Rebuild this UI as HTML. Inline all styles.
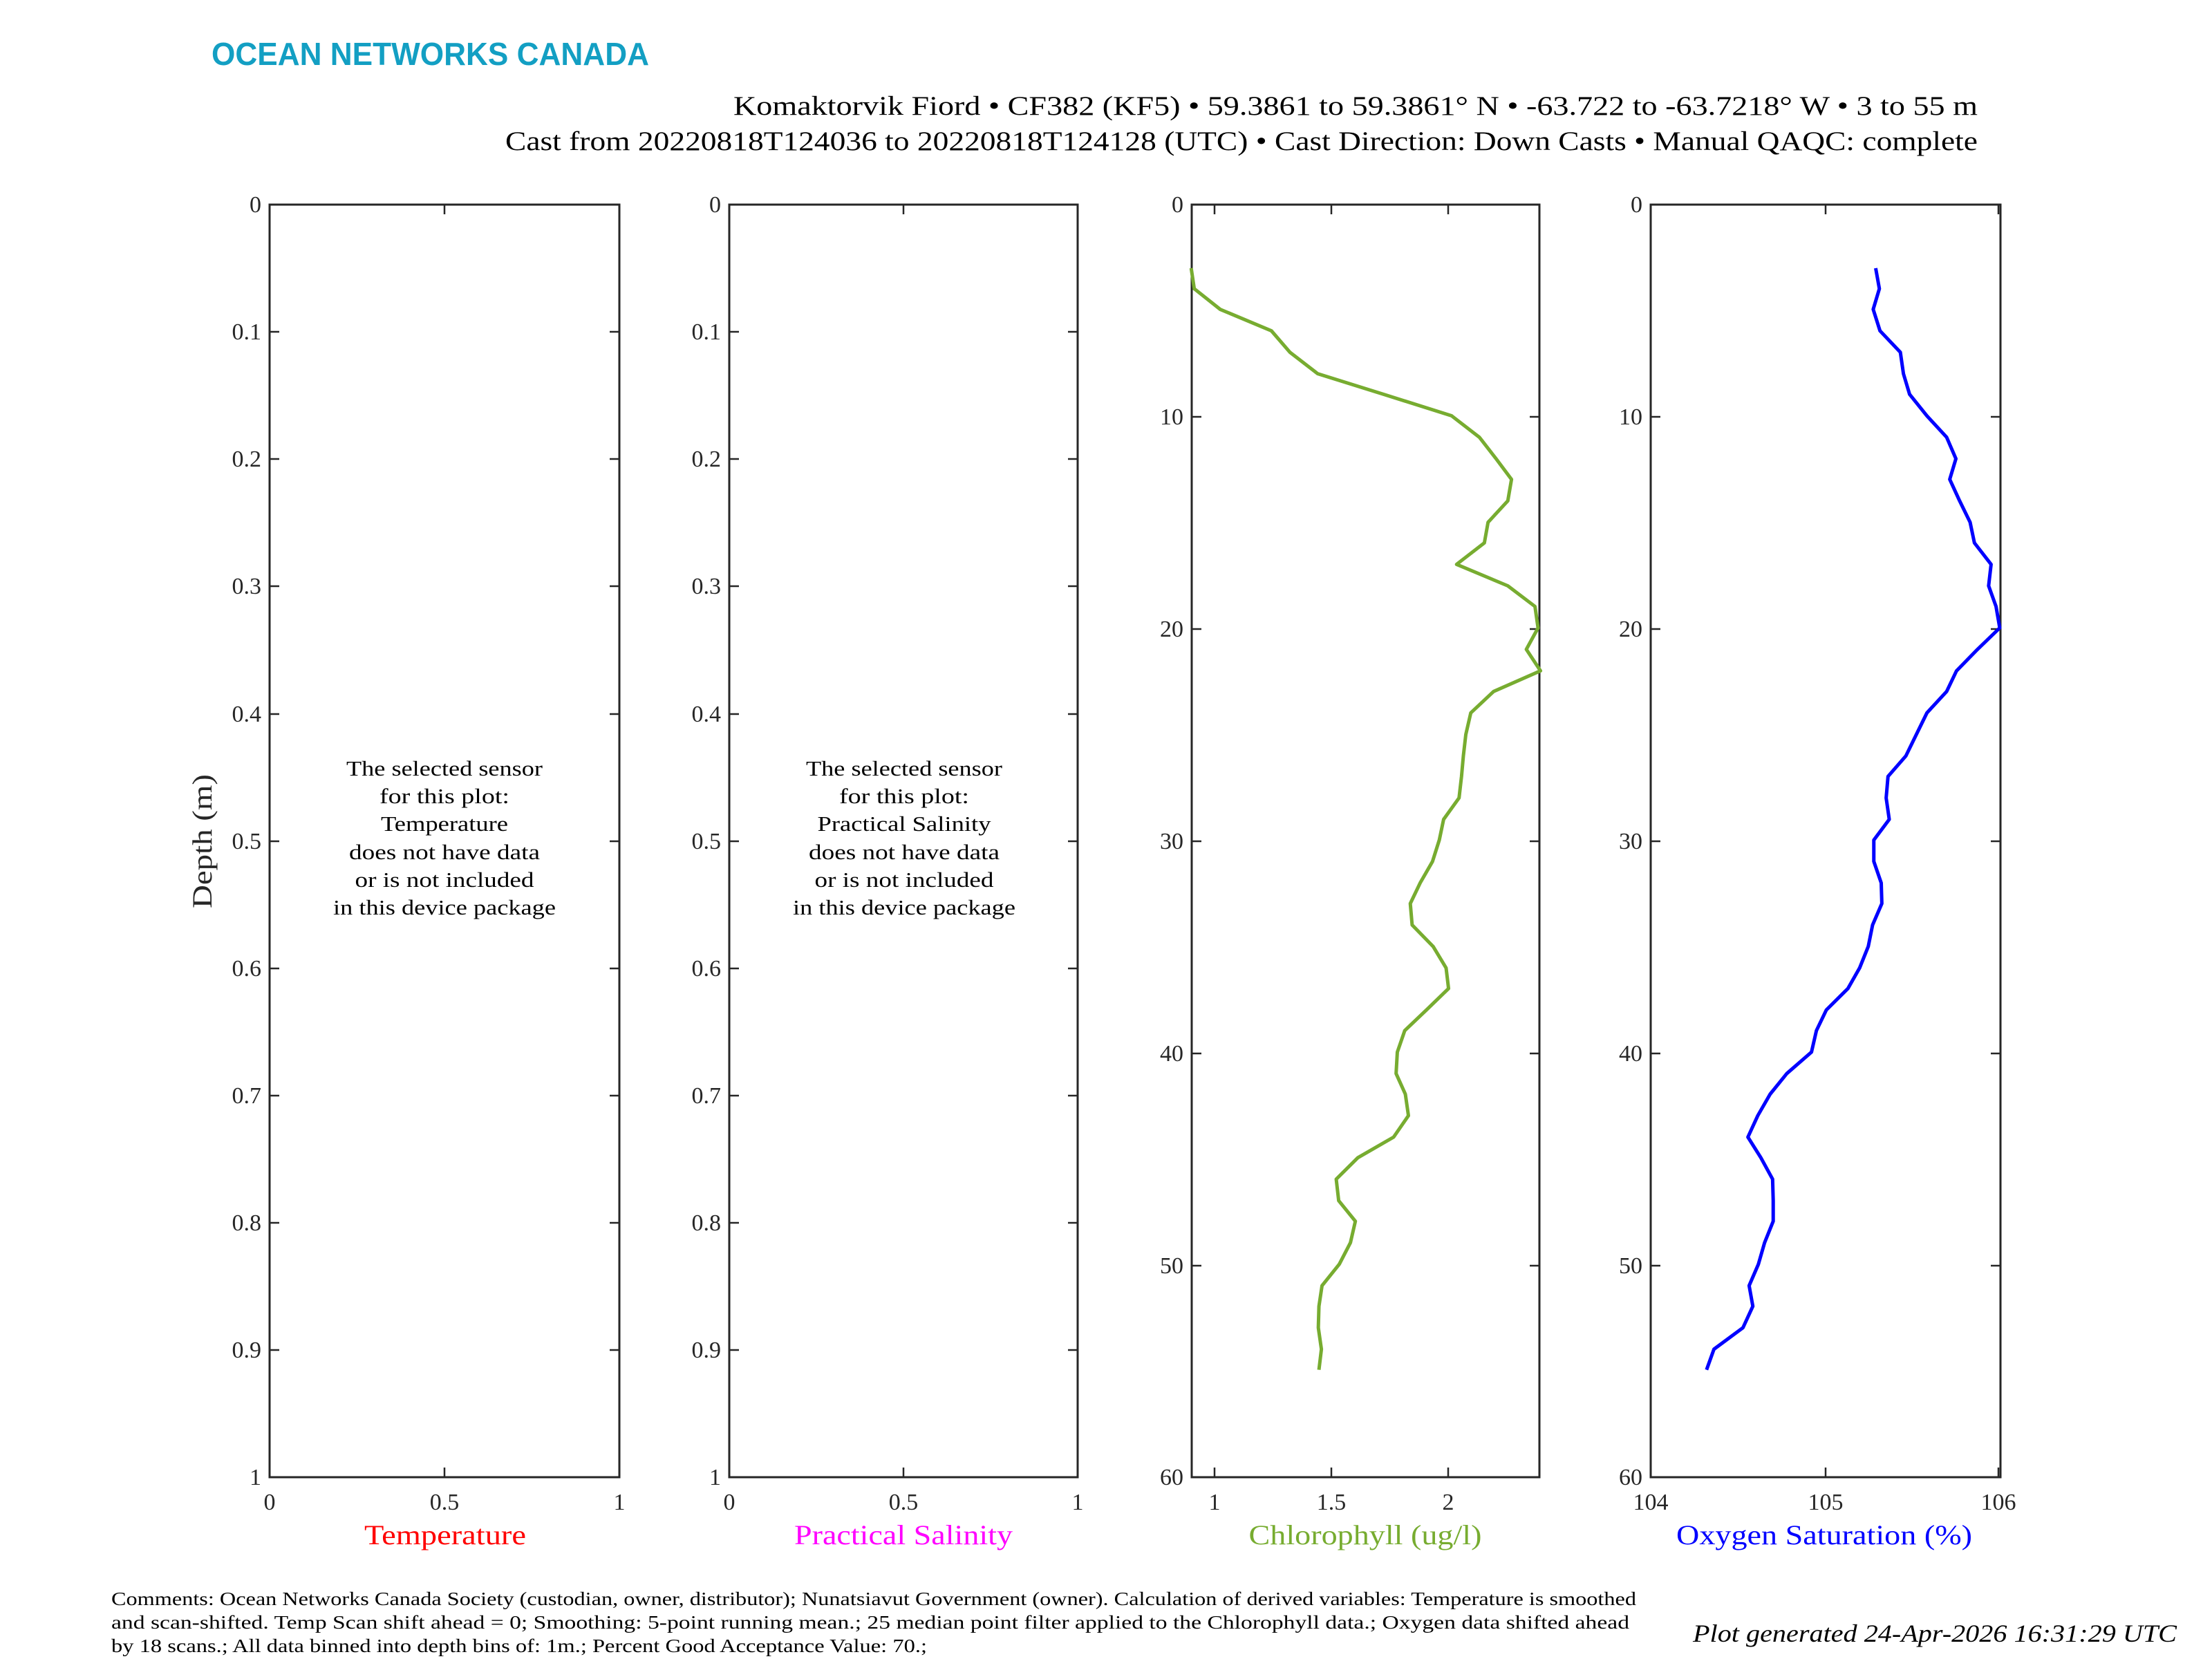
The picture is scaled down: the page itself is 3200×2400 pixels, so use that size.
<!DOCTYPE html>
<html><head><meta charset="utf-8"><style>html,body{margin:0;padding:0;background:#fff}svg{display:block}</style></head><body>
<svg xmlns="http://www.w3.org/2000/svg" width="3200" height="2400" viewBox="0 0 3200 2400" font-family="'Liberation Serif',serif">
<rect width="3200" height="2400" fill="#fff"/>
<text x="306" y="94" font-family="'Liberation Sans',sans-serif" font-weight="bold" font-size="46" fill="#139fc3" textLength="633" lengthAdjust="spacingAndGlyphs">OCEAN NETWORKS CANADA</text>
<g font-size="39" text-anchor="end" fill="#000" lengthAdjust="spacingAndGlyphs">
<text x="2861" y="166" textLength="1800" lengthAdjust="spacingAndGlyphs">Komaktorvik Fiord • CF382 (KF5) • 59.3861 to 59.3861° N • -63.722 to -63.7218° W • 3 to 55 m</text>
<text x="2861" y="217" textLength="2130" lengthAdjust="spacingAndGlyphs">Cast from 20220818T124036 to 20220818T124128 (UTC) • Cast Direction: Down Casts • Manual QAQC: complete</text>
</g>
<g stroke="#262626" stroke-width="3" fill="none">
<rect x="390" y="296" width="506" height="1841"/>
<rect x="1055" y="296" width="504" height="1841"/>
<rect x="1724" y="296" width="503" height="1841"/>
<rect x="2388" y="296" width="506" height="1841"/>
</g>
<g stroke="#262626" stroke-width="2.5">
<path d="M390 480h14M390 664h14M390 848h14M390 1033h14M390 1217h14M390 1401h14M390 1585h14M390 1769h14M390 1953h14
M896 480h-14M896 664h-14M896 848h-14M896 1033h-14M896 1217h-14M896 1401h-14M896 1585h-14M896 1769h-14M896 1953h-14
M643 296v14M643 2137v-14
M1055 480h14M1055 664h14M1055 848h14M1055 1033h14M1055 1217h14M1055 1401h14M1055 1585h14M1055 1769h14M1055 1953h14
M1559 480h-14M1559 664h-14M1559 848h-14M1559 1033h-14M1559 1217h-14M1559 1401h-14M1559 1585h-14M1559 1769h-14M1559 1953h-14
M1307 296v14M1307 2137v-14
M1724 603h14M1724 910h14M1724 1217h14M1724 1524h14M1724 1831h14
M2227 603h-14M2227 910h-14M2227 1217h-14M2227 1524h-14M2227 1831h-14
M1757 296v14M1757 2137v-14M1926 296v14M1926 2137v-14M2095 296v14M2095 2137v-14
M2388 603h14M2388 910h14M2388 1217h14M2388 1524h14M2388 1831h14
M2894 603h-14M2894 910h-14M2894 1217h-14M2894 1524h-14M2894 1831h-14
M2641 296v14M2641 2137v-14M2891 296v14M2891 2137v-14"/>
</g>
<g font-size="34" fill="#262626" text-anchor="end">
<text x="378" y="307">0</text><text x="378" y="491">0.1</text><text x="378" y="675">0.2</text><text x="378" y="859">0.3</text><text x="378" y="1044">0.4</text><text x="378" y="1228">0.5</text><text x="378" y="1412">0.6</text><text x="378" y="1596">0.7</text><text x="378" y="1780">0.8</text><text x="378" y="1964">0.9</text><text x="378" y="2148">1</text>
<text x="1043" y="307">0</text><text x="1043" y="491">0.1</text><text x="1043" y="675">0.2</text><text x="1043" y="859">0.3</text><text x="1043" y="1044">0.4</text><text x="1043" y="1228">0.5</text><text x="1043" y="1412">0.6</text><text x="1043" y="1596">0.7</text><text x="1043" y="1780">0.8</text><text x="1043" y="1964">0.9</text><text x="1043" y="2148">1</text>
<text x="1712" y="307">0</text><text x="1712" y="614">10</text><text x="1712" y="921">20</text><text x="1712" y="1228">30</text><text x="1712" y="1535">40</text><text x="1712" y="1842">50</text><text x="1712" y="2148">60</text>
<text x="2376" y="307">0</text><text x="2376" y="614">10</text><text x="2376" y="921">20</text><text x="2376" y="1228">30</text><text x="2376" y="1535">40</text><text x="2376" y="1842">50</text><text x="2376" y="2148">60</text>
</g>
<g font-size="34" fill="#262626" text-anchor="middle">
<text x="390" y="2184">0</text><text x="643" y="2184">0.5</text><text x="896" y="2184">1</text>
<text x="1055" y="2184">0</text><text x="1307" y="2184">0.5</text><text x="1559" y="2184">1</text>
<text x="1757" y="2184">1</text><text x="1926" y="2184">1.5</text><text x="2095" y="2184">2</text>
<text x="2388" y="2184">104</text><text x="2641" y="2184">105</text><text x="2891" y="2184">106</text>
</g>
<g font-size="40" text-anchor="middle">
<text x="644" y="2234" fill="#ff0000" textLength="234" lengthAdjust="spacingAndGlyphs">Temperature</text>
<text x="1307" y="2234" fill="#ff00ff" textLength="316" lengthAdjust="spacingAndGlyphs">Practical Salinity</text>
<text x="1975" y="2234" fill="#77ac30" textLength="337" lengthAdjust="spacingAndGlyphs">Chlorophyll (ug/l)</text>
<text x="2639" y="2234" fill="#0000ff" textLength="428" lengthAdjust="spacingAndGlyphs">Oxygen Saturation (%)</text>
<text transform="translate(306,1217) rotate(-90)" fill="#262626" textLength="194" lengthAdjust="spacingAndGlyphs">Depth (m)</text>
</g>
<g font-size="31" text-anchor="middle" fill="#000" lengthAdjust="spacingAndGlyphs">
<text x="643" y="1122" textLength="284" lengthAdjust="spacingAndGlyphs">The selected sensor</text><text x="643" y="1162" textLength="188" lengthAdjust="spacingAndGlyphs">for this plot:</text><text x="643" y="1202" textLength="184" lengthAdjust="spacingAndGlyphs">Temperature</text><text x="643" y="1243" textLength="276" lengthAdjust="spacingAndGlyphs">does not have data</text><text x="643" y="1283" textLength="259" lengthAdjust="spacingAndGlyphs">or is not included</text><text x="643" y="1323" textLength="322" lengthAdjust="spacingAndGlyphs">in this device package</text>
<text x="1308" y="1122" textLength="284" lengthAdjust="spacingAndGlyphs">The selected sensor</text><text x="1308" y="1162" textLength="188" lengthAdjust="spacingAndGlyphs">for this plot:</text><text x="1308" y="1202" textLength="251" lengthAdjust="spacingAndGlyphs">Practical Salinity</text><text x="1308" y="1243" textLength="276" lengthAdjust="spacingAndGlyphs">does not have data</text><text x="1308" y="1283" textLength="259" lengthAdjust="spacingAndGlyphs">or is not included</text><text x="1308" y="1323" textLength="322" lengthAdjust="spacingAndGlyphs">in this device package</text>
</g>
<g transform="translate(1600,250) scale(0.8929,1.2422)" fill="none" stroke-linejoin="round">
<polyline vector-effect="non-scaling-stroke" stroke="#77ac30" stroke-width="5" points="138,111 143,135 185,159 268,184 298,209 343,234 450,258 560,283 605,308 632,333 657,357 651,382 619,407 613,431 568,456 651,481 695,505 700,530 681,555 704,580 628,604 591,629 583,654 579,679 576,703 572,728 547,753 540,777 529,802 509,827 493,851 496,876 530,901 551,926 555,950 519,975 484,999 472,1024 470,1049 485,1073 490,1098 466,1123 408,1147 373,1172 377,1197 404,1221 396,1246 378,1271 350,1296 345,1320 344,1345 349,1370 345,1394"/>
<polyline vector-effect="non-scaling-stroke" stroke="#0000ff" stroke-width="5" points="1247,111 1253,135 1243,159 1254,184 1287,209 1292,234 1302,258 1330,283 1362,308 1377,333 1367,357 1383,382 1400,407 1407,431 1434,456 1430,481 1442,505 1448,530 1412,555 1378,580 1362,604 1330,629 1313,654 1296,679 1267,703 1264,728 1269,753 1244,777 1244,802 1256,827 1257,851 1242,876 1235,901 1221,926 1202,950 1167,975 1151,999 1143,1024 1103,1049 1076,1073 1056,1098 1040,1123 1061,1147 1080,1172 1081,1197 1081,1221 1067,1246 1057,1271 1042,1296 1048,1320 1032,1345 985,1370 973,1394"/>
</g>
<g font-size="27" fill="#000">
<text x="161" y="2322" textLength="2206" lengthAdjust="spacingAndGlyphs">Comments: Ocean Networks Canada Society (custodian, owner, distributor); Nunatsiavut Government (owner). Calculation of derived variables: Temperature is smoothed</text>
<text x="161" y="2356" textLength="2196" lengthAdjust="spacingAndGlyphs">and scan-shifted. Temp Scan shift ahead = 0; Smoothing: 5-point running mean.; 25 median point filter applied to the Chlorophyll data.; Oxygen data shifted ahead</text>
<text x="161" y="2390" textLength="1180" lengthAdjust="spacingAndGlyphs">by 18 scans.; All data binned into depth bins of: 1m.; Percent Good Acceptance Value: 70.;</text>
</g>
<text x="3149" y="2375" font-size="36" font-style="italic" text-anchor="end" fill="#000" textLength="700" lengthAdjust="spacingAndGlyphs">Plot generated 24-Apr-2026 16:31:29 UTC</text>
</svg>
</body></html>
